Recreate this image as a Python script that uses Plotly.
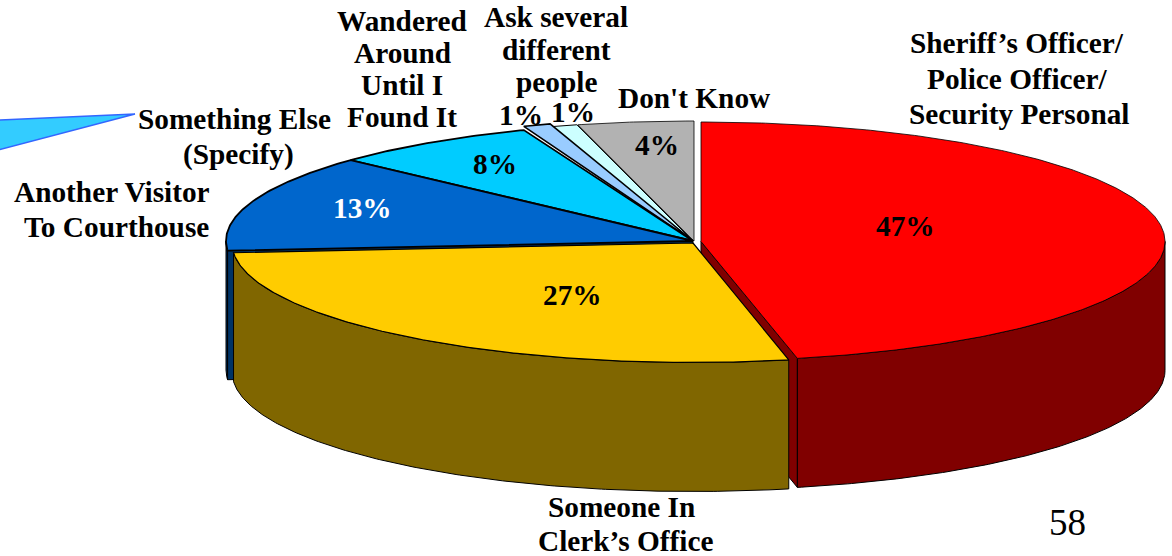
import numpy as np
import plotly.graph_objects as go

# ---- data ----
categories = ["Sheriff’s Officer/<br>Police Officer/<br>Security Personal",
              "Someone In<br>Clerk’s Office",
              "Another Visitor<br>To Courthouse",
              "Something Else<br>(Specify)",
              "Wandered<br>Around<br>Until I<br>Found It",
              "Ask several<br>different<br>people",
              "Don't Know"]
percent_labels = ["47%", "27%", "13%", "8%", "1%", "1%", "4%"]
shares = [46.67, 27.03, 13.2, 7.2, 0.95, 0.95, 4.0]
top_colors = ["#FF0000", "#FFCC00", "#0066CC", "#00CCFF", "#99CCFF", "#CCFFFF", "#B2B2B2"]
side_colors = ["#800000", "#806600", "#003366", "#006680", "#4D6680", "#668080", "#595959"]
page_number = "58"

# ---- pie geometry (pixel-space axes) ----
W, H = 1172, 556
DEPTH = 129
centers = [(701, 241.5), (693, 243), (693, 241), (693, 241), (693, 241), (693, 241), (694, 241)]
radii = [(464, 119.5), (461, 119.5), (467, 119), (467, 119), (467, 123), (467, 120), (467, 120)]
line_widths = [0.8, 1.2, 1.8, 1.8, 1.6, 1.0, 0.8]
FONT = "Liberation Serif"

def arc(t0, t1, c, r, dy=0.0):
    t = np.radians(np.linspace(t0, t1, max(2, int(abs(t1 - t0) * 2) + 2)))
    return c[0] + r[0] * np.sin(t), c[1] - r[1] * np.cos(t) + dy

def poly(fig, x, y, fill, lw):
    fig.add_trace(go.Scatter(x=list(x) + [x[0]], y=list(y) + [y[0]], mode="lines", fill="toself",
                             fillcolor=fill, line=dict(color="black", width=lw),
                             hoverinfo="skip", showlegend=False))

fig = go.Figure()
edges = np.concatenate([[0], np.cumsum(shares)]) / np.sum(shares) * 360

# callout wedge on the far left
wedge_x = [135, -2, -2]
wedge_y = [114, 120, 150]
fig.add_trace(go.Scatter(x=wedge_x + wedge_x[:1], y=wedge_y + wedge_y[:1], mode="lines", fill="toself",
                         fillcolor="#33CCFF", line=dict(color="#3366FF", width=1.5),
                         hoverinfo="skip", showlegend=False))

def cut_face(i, angle):
    c, r = centers[i], radii[i]
    ex, ey = arc(angle, angle, c, r)
    poly(fig, [c[0], ex[0], ex[0], c[0]], [c[1], ey[0], ey[0] + DEPTH, c[1] + DEPTH], side_colors[i], 1)

# walls: blue first, then red, then yellow (front-most)
for i in [2, 0, 1]:
    t0, t1 = edges[i], edges[i + 1]
    c, r = centers[i], radii[i]
    if i == 0:
        cut_face(0, t1)
    if i == 2:
        cut_face(2, t0)
    a, b = max(t0, 90), min(t1, 270)
    tx, ty = arc(a, b, c, r)
    bx, by = arc(a, b, c, r, DEPTH)
    poly(fig, np.r_[tx, bx[::-1]], np.r_[ty, by[::-1]], side_colors[i], 1)

# tops
for i in [6, 5, 4, 3, 2, 0, 1]:
    c, r = centers[i], radii[i]
    ax, ay = arc(edges[i], edges[i + 1], c, r)
    poly(fig, np.r_[c[0], ax], np.r_[c[1], ay], top_colors[i], line_widths[i])

# ---- text ----
SZ = 29.3
LEAD = 35
anns = []
def put(text, x, y, color="black", size=SZ, bold=True, lead=LEAD):
    for k, part in enumerate(text.split("<br>")):
        t = f"<b>{part}</b>" if bold else part
        anns.append(dict(x=x if not isinstance(x, list) else x[k], y=y + k * lead, text=t, showarrow=False,
                         xanchor="center", yanchor="middle", xref="x", yref="y",
                         font=dict(family=FONT, size=size, color=color)))

put(categories[0], [1017, 1017, 1019], 43, lead=35.5)
put(categories[1], [621, 625], 507, lead=34)
put(categories[2], [112, 116], 192)
put(categories[3], [234, 238], 119)
put(categories[4], 402, 21, lead=32)
put(categories[5], 556, 17, lead=32.5)
put(categories[6], 694, 98)
pct_pos = [(905, 226), (572, 295), (362, 208), (495, 164), (521, 115), (573, 112), (657, 145)]
for j, (lab, p) in enumerate(zip(percent_labels, pct_pos)):
    put(lab, p[0], p[1], color="white" if j == 2 else "black")
put(page_number, 1067, 522, size=37, bold=False)

fig.update_layout(width=W, height=H, margin=dict(l=0, r=0, t=0, b=0), showlegend=False,
                  paper_bgcolor="white", plot_bgcolor="white", annotations=anns,
                  xaxis=dict(range=[0, W], visible=False, fixedrange=True),
                  yaxis=dict(range=[H, 0], visible=False, fixedrange=True))
fig.write_html("out.html", config=dict(displayModeBar=False),
               post_script="document.body.style.margin='0';")
